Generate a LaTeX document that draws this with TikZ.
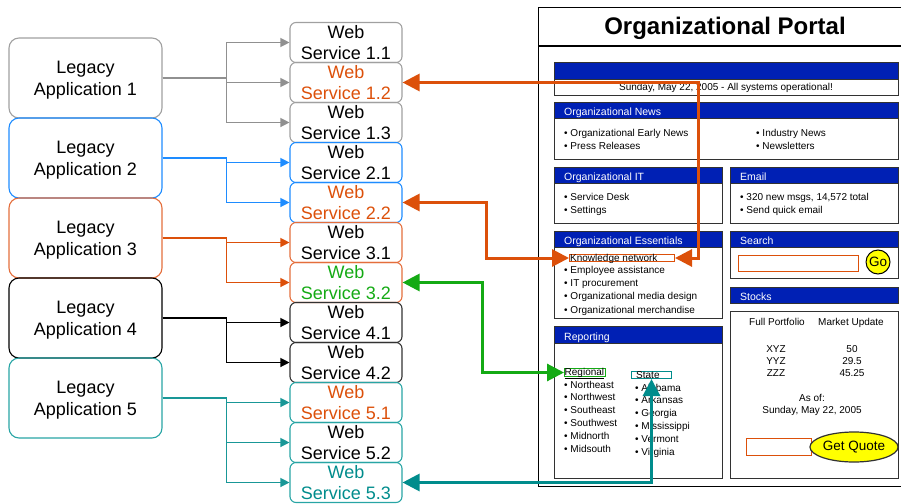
\documentclass[tikz,border=0pt]{standalone}
\usepackage{fontspec}
\setmainfont{Liberation Sans}
\usetikzlibrary{arrows.meta}
\usetikzlibrary{shapes.geometric}

\definecolor{appgray}{RGB}{160,160,160}
\definecolor{appblue}{RGB}{30,140,255}
\definecolor{apporange}{RGB}{228,110,60}
\definecolor{appteal}{RGB}{40,165,165}
\definecolor{linkorange}{RGB}{220,80,10}
\definecolor{linkgreen}{RGB}{20,170,20}
\definecolor{linkteal}{RGB}{0,140,140}
\definecolor{portalblue}{RGB}{0,32,180}
\definecolor{panelline}{RGB}{50,50,50}
\definecolor{quoteyellow}{RGB}{255,255,0}

\begin{document}
\begin{tikzpicture}[x=1pt, y=-1pt,
    app/.style = {draw, rounded corners=10pt, line width=1.1pt, minimum width=153pt, minimum height=80pt, align=center, text depth=0pt, font=\fontsize{18}{22}\selectfont},
    ws/.style = {draw, rounded corners=6pt, line width=1.1pt, minimum width=112pt, minimum height=40pt, inner sep=0pt, align=center, font=\fontsize{18}{21}\selectfont},
    conn/.style = {line width=1.2pt, -{Triangle[length=9pt,width=9pt]}},
    link/.style = {line width=3pt, {Triangle[length=17pt,width=17pt]}-{Triangle[length=17pt,width=17pt]}},
    phead/.style = {draw=panelline, line width=1.2pt, fill=portalblue, anchor=north west, minimum height=16pt, inner sep=0pt},
    pbody/.style = {draw=panelline, line width=1.2pt, fill=white, anchor=north west, inner sep=0pt},
    htext/.style = {anchor=base west, inner sep=0pt, text=white, font=\fontsize{10.5}{12}\selectfont},
    txt/.style = {anchor=base west, inner sep=0pt, align=left, font=\fontsize{10}{13}\selectfont},
    ctxt/.style = {anchor=base, inner sep=0pt, align=center, font=\fontsize{10}{12}\selectfont}]
  \useasboundingbox (0,0) rectangle (901,503);

  % legacy applications
  \node[app, draw=appgray] (app1) at (85.5,78) {Legacy\\Application 1};
  \node[app, draw=appblue] (app2) at (85.5,158) {Legacy\\Application 2};
  \node[app, draw=apporange] (app3) at (85.5,238) {Legacy\\Application 3};
  \node[app, draw=black] (app4) at (85.5,318) {Legacy\\Application 4};
  \node[app, draw=appteal] (app5) at (85.5,398) {Legacy\\Application 5};

  % web services
  \node[ws, draw=appgray] (ws11) at (346,42.5) {Web\\Service 1.1};
  \node[ws, draw=appgray, text=linkorange] (ws12) at (346,82.5) {Web\\Service 1.2};
  \node[ws, draw=appgray] (ws13) at (346,122.5) {Web\\Service 1.3};
  \node[ws, draw=appblue] (ws21) at (346,162.5) {Web\\Service 2.1};
  \node[ws, draw=appblue, text=linkorange] (ws22) at (346,202.5) {Web\\Service 2.2};
  \node[ws, draw=apporange] (ws31) at (346,242.5) {Web\\Service 3.1};
  \node[ws, draw=apporange, text=linkgreen] (ws32) at (346,282.5) {Web\\Service 3.2};
  \node[ws, draw=black!80] (ws41) at (346,322.5) {Web\\Service 4.1};
  \node[ws, draw=black!80] (ws42) at (346,362.5) {Web\\Service 4.2};
  \node[ws, draw=appteal, text=linkorange] (ws51) at (346,402.5) {Web\\Service 5.1};
  \node[ws, draw=appteal] (ws52) at (346,442.5) {Web\\Service 5.2};
  \node[ws, draw=appteal, text=linkteal] (ws53) at (346,482.5) {Web\\Service 5.3};

  \draw[conn, appgray!90!black] (app1.east) -- ++(64,0) |- (ws11.west);
  \draw[conn, appgray!90!black] (app1.east) -- ++(64,0) |- (ws12.west);
  \draw[conn, appgray!90!black] (app1.east) -- ++(64,0) |- (ws13.west);
  \draw[conn, appblue] (app2.east) -- ++(64,0) |- (ws21.west);
  \draw[conn, appblue] (app2.east) -- ++(64,0) |- (ws22.west);
  \draw[conn, linkorange] (app3.east) -- ++(64,0) |- (ws31.west);
  \draw[conn, linkorange] (app3.east) -- ++(64,0) |- (ws32.west);
  \draw[conn, black] (app4.east) -- ++(64,0) |- (ws41.west);
  \draw[conn, black] (app4.east) -- ++(64,0) |- (ws42.west);
  \draw[conn, linkteal!90] (app5.east) -- ++(64,0) |- (ws51.west);
  \draw[conn, linkteal!90] (app5.east) -- ++(64,0) |- (ws52.west);
  \draw[conn, linkteal!90] (app5.east) -- ++(64,0) |- (ws53.west);

  % portal page
  \node[draw, line width=1.2pt, anchor=north west, minimum width=362.5pt, minimum height=479pt, inner sep=0pt] (portal) at (538,7) {};
  \draw[line width=1.2pt] (portal.west |- 0,46) -- (portal.east |- 0,46);
  \node[anchor=base, font=\fontsize{24}{28}\selectfont\bfseries] (title) at (725,35) {Organizational Portal};

  \node[phead, minimum width=344pt, minimum height=17pt] (banh) at (554,62) {};
  \node[pbody, minimum width=344pt, minimum height=16pt] (banb) at (554,79) {};
  \node[ctxt] (date) at (726,90) {Sunday, May 22, 2005 - All systems operational!};

  \node[phead, minimum width=344pt] (newsh) at (554,102) {};
  \node[pbody, minimum width=344pt, minimum height=41pt] (newsb) at (554,118) {};
  \node[htext] (newst) at ([xshift=10pt,yshift=3.5pt]newsh.south west) {Organizational News};
  \node[txt] (newsa) at (564,149) {• Organizational Early News\\• Press Releases};
  \node[txt] (newsc) at (756,149) {• Industry News\\• Newsletters};

  \node[phead, minimum width=168pt] (ith) at (554,167) {};
  \node[pbody, minimum width=168pt, minimum height=40pt] (itb) at (554,183) {};
  \node[htext] (itt) at ([xshift=10pt,yshift=3.5pt]ith.south west) {Organizational IT};
  \node[txt] (itl) at (564,213) {• Service Desk\\• Settings};

  \node[phead, minimum width=168pt] (mailh) at (730,167) {};
  \node[pbody, minimum width=168pt, minimum height=40pt] (mailb) at (730,183) {};
  \node[htext] (mailt) at ([xshift=10pt,yshift=3.5pt]mailh.south west) {Email};
  \node[txt] (maill) at (740,213) {• 320 new msgs, 14,572 total\\• Send quick email};

  \node[phead, minimum width=168pt] (essh) at (554,231) {};
  \node[pbody, minimum width=168pt, minimum height=71pt] (essb) at (554,247) {};
  \node[htext] (esst) at ([xshift=10pt,yshift=3.5pt]essh.south west) {Organizational Essentials};
  \node[draw=linkorange, line width=1pt, anchor=north west, minimum width=105pt, minimum height=7pt, inner sep=0pt] (kn) at (569,254) {};
  \node[txt] (knt) at (570,261) {Knowledge network};
  \node[txt, font=\fontsize{10}{13.3}\selectfont] (essl) at (564,313) {• Employee assistance\\• IT procurement\\• Organizational media design\\• Organizational merchandise};

  \node[phead, minimum width=168pt] (srch) at (730,231) {};
  \node[pbody, minimum width=168pt, minimum height=31pt] (srcb) at (730,247) {};
  \node[htext] (srct) at ([xshift=10pt,yshift=3.5pt]srch.south west) {Search};
  \node[draw=linkorange, line width=1pt, anchor=north west, minimum width=120pt, minimum height=16pt, inner sep=0pt] (field) at (738,255) {};
  \node[circle, draw, line width=1pt, fill=quoteyellow, minimum size=24pt, inner sep=0pt, font=\fontsize{13.5}{14}\selectfont] (go) at (878,262) {Go};

  \node[phead, minimum width=168pt] (stoh) at (730,287) {};
  \node[htext] (stot) at ([xshift=10pt,yshift=3.5pt]stoh.south west) {Stocks};
  \node[pbody, minimum width=168pt, minimum height=167pt] (stob) at (730,311) {};
  \node[ctxt] (port) at (777,325) {Full Portfolio};
  \node[ctxt] (upd) at (851,325) {Market Update};
  \node[ctxt] (syms) at (776,376) {XYZ\\YYZ\\ZZZ};
  \node[ctxt] (vals) at (852,376) {50\\29.5\\45.25};
  \node[ctxt] (asof) at (812,413.5) {As of:\\Sunday, May 22, 2005};
  \node[draw=linkorange, line width=1pt, anchor=north west, minimum width=65pt, minimum height=17pt, inner sep=0pt] (qfield) at (746,438) {};
  \node[ellipse, draw=panelline, line width=1.2pt, fill=quoteyellow, minimum width=70pt, minimum height=30pt, inner sep=0pt, font=\fontsize{13.5}{14}\selectfont] (quote) at (854,447) {Get Quote};

  \node[phead, minimum width=168pt, minimum height=17pt] (reph) at (554,326) {};
  \node[pbody, minimum width=168pt, minimum height=135pt] (repb) at (554,343) {};
  \node[htext] (rept) at ([xshift=10pt,yshift=3.5pt]reph.south west) {Reporting};
  \node[draw=linkgreen, line width=1pt, anchor=north west, minimum width=41pt, minimum height=8pt, inner sep=0pt] (reg) at (564,368) {};
  \node[txt] (regt) at (564.5,375) {\underline{Regional}};
  \node[txt, font=\fontsize{10}{12.8}\selectfont] (regl) at (564,452) {• Northeast\\• Northwest\\• Southeast\\• Southwest\\• Midnorth\\• Midsouth};
  \node[draw=linkteal, line width=1pt, anchor=north west, minimum width=40pt, minimum height=7pt, inner sep=0pt] (state) at (631,371) {};
  \node[txt] (statet) at (636,378) {State};
  \node[txt, font=\fontsize{10}{12.8}\selectfont] (statel) at (635,455) {• Alabama\\• Arkansas\\• Georgia\\• Mississippi\\• Vermont\\• Virginia};

  % links from the services into the portal
  \draw[link, linkorange] (ws12.east) -| ([xshift=23pt]kn.east) -- (kn.east);
  \draw[link, linkorange] (ws22.east) -- ++(84,0) |- (kn.west);
  \draw[link, linkgreen] (ws32.east) -- ++(80,0) |- (reg.west);
  \draw[link, linkteal] (ws53.east) -| (state.south);
\end{tikzpicture}
\end{document}
